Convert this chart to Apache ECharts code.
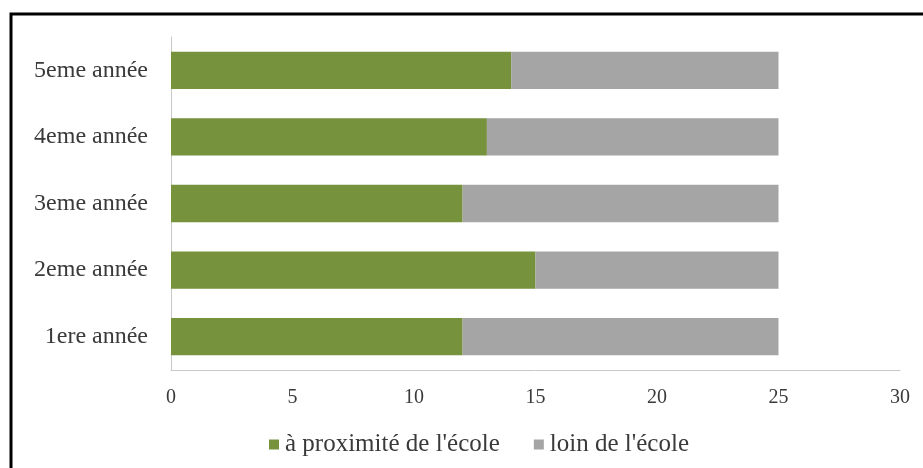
<!DOCTYPE html>
<html>
<head>
<meta charset="utf-8">
<script src="https://cdn.jsdelivr.net/npm/echarts@6/dist/echarts.min.js"></script>
<style>
  html, body { margin: 0; padding: 0; background: #fff; }
  #chart { width: 923px; height: 468px; }
</style>
</head>
<body>
<div id="chart"></div>
<script>
// données
const categories = ['1ere année', '2eme année', '3eme année', '4eme année', '5eme année'];
const procheEcole = [12, 15, 12, 13, 14];
const loinEcole = [13, 10, 13, 12, 11];
const xTicks = [0, 5, 10, 15, 20, 25, 30];

const fontFamily = '"Liberation Serif", "DejaVu Serif", serif';

const chart = echarts.init(document.getElementById('chart'));
chart.setOption({
    animation: false,
    textStyle: { fontFamily: fontFamily },
    graphic: [{
        type: 'rect',
        shape: { x: 11, y: 14, width: 940, height: 480 },
        style: { fill: 'none', stroke: '#000', lineWidth: 3 },
        silent: true
    }],
    grid: { left: 171, right: 23, top: 37, bottom: 98 },
    legend: {
        left: 264,
        top: 427,
        icon: 'rect',
        itemWidth: 10,
        itemHeight: 10,
        itemGap: 34,
        textStyle: { fontFamily: fontFamily, fontSize: 25, color: '#3a3a3a', padding: [0, 0, 0, 1] },
        data: ['à proximité de l\'école', 'loin de l\'école']
    },
    xAxis: {
        type: 'value',
        min: xTicks[0],
        max: xTicks[xTicks.length - 1],
        interval: 5,
        axisLine: { show: true, lineStyle: { color: '#c8c8c8', width: 1 } },
        axisTick: { show: false },
        splitLine: { show: false },
        axisLabel: { fontFamily: fontFamily, fontSize: 20, color: '#3a3a3a', margin: 18 }
    },
    yAxis: {
        type: 'category',
        data: categories,
        axisLine: { show: true, lineStyle: { color: '#c8c8c8', width: 1 } },
        axisTick: { show: false },
        axisLabel: { fontFamily: fontFamily, fontSize: 24, color: '#3a3a3a', margin: 23 }
    },
    series: [{
        name: 'à proximité de l\'école',
        type: 'bar',
        stack: 'total',
        barWidth: '56%',
        itemStyle: { color: '#76923c' },
        data: procheEcole
    }, {
        name: 'loin de l\'école',
        type: 'bar',
        stack: 'total',
        barWidth: '56%',
        itemStyle: { color: '#a5a5a5' },
        data: loinEcole
    }]
});
</script>
</body>
</html>
